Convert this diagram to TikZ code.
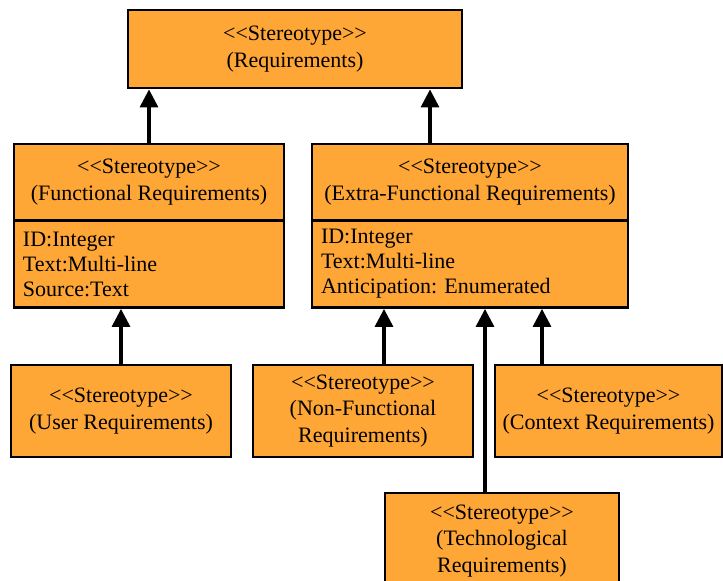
\documentclass[tikz,border=0pt]{standalone}
\usepackage{fontspec}
\setmainfont{Liberation Serif}
\usetikzlibrary{arrows.meta}
\definecolor{boxfill}{RGB}{254,166,54}
% stereotype marker, with the ligature << -> guillemet broken up
\newcommand\stereo{<{}<Stereotype>{}>}
\frenchspacing
\begin{document}
\begin{tikzpicture}[x=1pt,y=-1pt,
  box/.style={draw=black, line width=2.8pt, fill=boxfill, text=black,
    font=\fontsize{22}{26.5}\selectfont, align=center, inner sep=0pt},
  attrs/.style={box, font=\fontsize{22}{25}\selectfont, align=left, inner xsep=9pt},
  gen/.style={line width=3.2pt, -{Triangle[length=18pt,width=18pt]}}]
\clip (0,0) rectangle (723,581);

% root stereotype
\node[box, minimum width=334pt, minimum height=78pt] (req) at (295,49)
  {\stereo\\(Requirements)};

% second level: header compartment + attribute compartment
\node[box, minimum width=270pt, minimum height=76pt] (fun) at (149,182)
  {\stereo\\(Functional Requirements)};
\node[attrs, text width=252pt, minimum height=87pt] (funattr) at (149,264)
  {ID:Integer\\Text:Multi-line\\Source:Text};
\node[box, minimum width=316pt, minimum height=76pt] (efun) at (470,182)
  {\stereo\\(Extra-Functional Requirements)};
\node[attrs, text width=298pt, minimum height=87pt] (efunattr) at (470,264)
  {ID:Integer\\Text:Multi-line\\Anticipation: Enumerated};

% leaves
\node[box, minimum width=220pt, minimum height=92pt] (user) at (121,411)
  {\stereo\\(User Requirements)};
\node[box, minimum width=220pt, minimum height=92pt] (nonfun) at (363,411)
  {\stereo\\(Non-Functional\\Requirements)};
\node[box, minimum width=227pt, minimum height=92pt] (ctx) at (608.5,411)
  {\stereo\\(Context Requirements)};
\node[box, minimum width=234pt, minimum height=96pt] (tech) at (502,541)
  {\stereo\\(Technological\\Requirements)};

% connector attachment points
\coordinate (e1) at ([xshift=-40pt]efun.north);
\coordinate (n1) at ([xshift=21pt]nonfun.north);
\coordinate (t1) at ([xshift=-17pt]tech.north);
\coordinate (c1) at ([xshift=-66.5pt]ctx.north);

% generalisation arrows
\draw[gen] (fun.north) -- (fun.north |- req.south);
\draw[gen] (e1) -- (e1 |- req.south);
\draw[gen] (user.north) -- (user.north |- funattr.south);
\draw[gen] (n1) -- (n1 |- efunattr.south);
\draw[gen] (t1) -- (t1 |- efunattr.south);
\draw[gen] (c1) -- (c1 |- efunattr.south);
\end{tikzpicture}
\end{document}
